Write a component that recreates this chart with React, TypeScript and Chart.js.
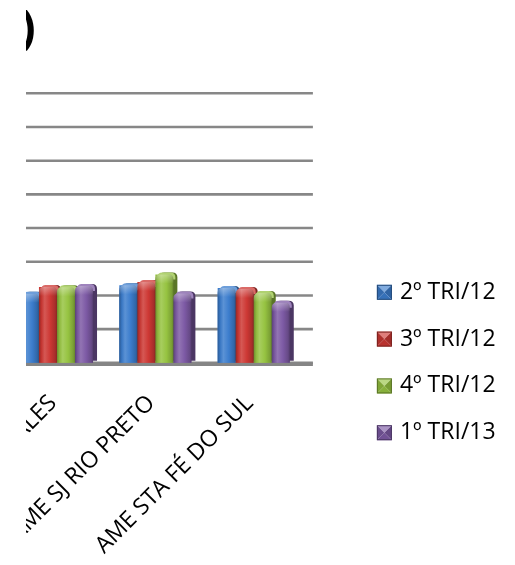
import React, { useEffect, useRef } from "react";
import { Chart, registerables } from "chart.js";

Chart.register(...registerables);

// Units and quarters
const categories = ["AME JALES", "AME SJ RIO PRETO", "AME STA FÉ DO SUL"];
const seriesLabels = ["2º TRI/12", "3º TRI/12", "4º TRI/12", "1º TRI/13"];

// Quarterly values per unit
const tri2_12 = [20.5, 23.0, 22.2];
const tri3_12 = [22.5, 24.0, 21.9];
const tri4_12 = [22.4, 26.2, 20.7];
const tri1_13 = [22.8, 20.6, 17.8];

const seriesColors = ["#3c7dcd", "#cd3834", "#96c341", "#7d5aa5"];

// Value axis range
const yMin = 0;
const yMax = 80;
const yStep = 10;

const titleText = ")";

function rgb(hex: string): [number, number, number] {
  const h = hex.replace("#", "");
  return [parseInt(h.slice(0, 2), 16), parseInt(h.slice(2, 4), 16), parseInt(h.slice(4, 6), 16)];
}
function shade(hex: string, f: number): string {
  const [r, g, b] = rgb(hex);
  const c = (v: number) => Math.max(0, Math.min(255, Math.round(v * f)));
  return `rgb(${c(r)},${c(g)},${c(b)})`;
}
function tint(hex: string, t: number): string {
  const [r, g, b] = rgb(hex);
  const c = (v: number) => Math.round(v + (255 - v) * t);
  return `rgb(${c(r)},${c(g)},${c(b)})`;
}

function topRounded(ctx: CanvasRenderingContext2D, x: number, y: number, w: number, h: number, r: number) {
  ctx.beginPath();
  ctx.moveTo(x, y + h);
  ctx.lineTo(x, y + r);
  ctx.quadraticCurveTo(x, y, x + r, y);
  ctx.lineTo(x + w - r, y);
  ctx.quadraticCurveTo(x + w, y, x + w, y + r);
  ctx.lineTo(x + w, y + h);
  ctx.closePath();
}

const DEPTH_X = 4;
const DEPTH_Y = 2;

// Back wall gridlines and floor edge
const wallPlugin = {
  id: "wall",
  beforeDatasetsDraw(chart: any) {
    const { ctx, chartArea, scales } = chart;
    const y = scales.y;
    ctx.save();
    ctx.strokeStyle = "#878787";
    ctx.lineWidth = 2.6;
    for (let v = yMin; v <= yMax; v += yStep) {
      const py = y.getPixelForValue(v);
      ctx.beginPath();
      ctx.moveTo(chartArea.left + 10, py);
      ctx.lineTo(chartArea.right + 10, py);
      ctx.stroke();
    }
    ctx.lineWidth = 3.5;
    ctx.strokeStyle = "#858585";
    const by = y.getPixelForValue(yMin) + 1.5;
    ctx.beginPath();
    ctx.moveTo(chartArea.left + 10, by);
    ctx.lineTo(chartArea.right + 10, by);
    ctx.stroke();
    ctx.restore();
  },
};

// Column shading: side face, rounded cap and cylindrical front gradient
const columnPlugin = {
  id: "columns3d",
  afterDatasetsDraw(chart: any) {
    const { ctx } = chart;
    const n = chart.data.labels.length;
    ctx.save();
    for (let i = 0; i < n; i++) {
      chart.data.datasets.forEach((ds: any, di: number) => {
        const meta = chart.getDatasetMeta(di);
        const el = meta.data[i];
        if (!el) return;
        const { x, y, base, width } = el.getProps(["x", "y", "base", "width"], true);
        const color = seriesColors[di];
        const left = x - width / 2;
        const w = width;
        const h = base - y;
        const r = 5;
        // side / depth
        ctx.fillStyle = shade(color, 0.6);
        topRounded(ctx, left + DEPTH_X, y - DEPTH_Y, w, h, r);
        ctx.fill();
        // cap
        ctx.fillStyle = tint(color, 0.25);
        topRounded(ctx, left + DEPTH_X / 2, y - DEPTH_Y, w, r + 2, r);
        ctx.fill();
        // front
        const g = ctx.createLinearGradient(left, 0, left + w, 0);
        g.addColorStop(0, shade(color, 0.72));
        g.addColorStop(0.14, shade(color, 0.95));
        g.addColorStop(0.32, tint(color, 0.16));
        g.addColorStop(0.62, color);
        g.addColorStop(0.9, shade(color, 0.82));
        g.addColorStop(1, shade(color, 0.68));
        ctx.fillStyle = g;
        topRounded(ctx, left, y, w, h, r);
        ctx.fill();
        // cap highlight
        const cg = ctx.createLinearGradient(0, y, 0, y + 9);
        cg.addColorStop(0, "rgba(255,255,255,0.35)");
        cg.addColorStop(1, "rgba(255,255,255,0)");
        ctx.fillStyle = cg;
        topRounded(ctx, left, y, w, 9, r);
        ctx.fill();
      });
    }
    ctx.restore();
  },
};

// Series key on the right and the heading
const keyPlugin = {
  id: "key",
  afterDraw(chart: any) {
    const { ctx, chartArea } = chart;
    ctx.save();
    const bx = chartArea.right + 74;
    const s = 15;
    const rowTop = chartArea.top + 199;
    const rowGap = 46.8;
    ctx.font = '23px "Open Sans"';
    ctx.textBaseline = "middle";
    ctx.textAlign = "left";
    chart.data.datasets.forEach((ds: any, di: number) => {
      const color = seriesColors[di];
      const cy = rowTop + di * rowGap;
      const x0 = bx, y0 = cy - s / 2, x1 = bx + s, y1 = cy + s / 2;
      const cx = bx + s / 2, cyy = cy;
      const tri = (pts: number[][], fill: string) => {
        ctx.beginPath();
        ctx.moveTo(pts[0][0], pts[0][1]);
        pts.slice(1).forEach((p) => ctx.lineTo(p[0], p[1]));
        ctx.closePath();
        ctx.fillStyle = fill;
        ctx.fill();
      };
      tri([[x0, y0], [x1, y0], [cx, cyy]], tint(color, 0.35));
      tri([[x1, y0], [x1, y1], [cx, cyy]], shade(color, 0.8));
      tri([[x0, y1], [x1, y1], [cx, cyy]], shade(color, 0.9));
      tri([[x0, y0], [x0, y1], [cx, cyy]], shade(color, 0.85));
      ctx.strokeStyle = shade(color, 0.6);
      ctx.lineWidth = 1;
      ctx.strokeRect(x0 + 0.5, y0 + 0.5, s - 1, s - 1);
      ctx.fillStyle = "#000";
      ctx.fillText(ds.label, bx + 23, cy);
    });
    ctx.font = 'bold 47px "Open Sans"';
    ctx.textAlign = "right";
    ctx.textBaseline = "middle";
    ctx.fillStyle = "#000";
    ctx.fillText(titleText, chartArea.left + 28, 30);
    ctx.restore();
  },
};

export default function App() {
  const canvasRef = useRef<HTMLCanvasElement>(null);

  useEffect(() => {
    document.body.style.margin = "0";
    const canvas = canvasRef.current;
    if (!canvas) return;
    const series = [tri2_12, tri3_12, tri4_12, tri1_13];
    const chart = new Chart(canvas, {
      type: "bar",
      data: {
        labels: categories,
        datasets: series.map((values, i) => ({
          label: seriesLabels[i],
          data: values,
          backgroundColor: seriesColors[i],
          borderWidth: 0,
          categoryPercentage: 0.733,
          barPercentage: 1.0,
        })),
      },
      options: {
        responsive: false,
        animation: false,
        events: [],
        layout: { padding: { left: 107.8, right: 212.1, top: 93.3, bottom: 0 } },
        plugins: {
          legend: { display: false },
          tooltip: { enabled: false },
          title: { display: false },
        },
        scales: {
          x: {
            grid: { display: false, drawTicks: false },
            border: { display: false },
            ticks: {
              autoSkip: false,
              minRotation: 45,
              maxRotation: 45,
              padding: 27,
              labelOffset: -4,
              color: "#000",
              font: { family: "Open Sans", size: 23 },
            },
            afterFit: (scale: any) => {
              scale.height = 202.2;
            },
          },
          y: {
            display: false,
            min: yMin,
            max: yMax,
            ticks: { stepSize: yStep },
          },
        },
      },
      plugins: [wallPlugin, columnPlugin, keyPlugin],
    });
    return () => chart.destroy();
  }, []);

  return (
    <div style={{ position: "relative", width: 515, height: 565, background: "#fff", overflow: "hidden" }}>
      <div style={{ position: "absolute", left: 26, top: 0, width: 489, height: 565, overflow: "hidden" }}>
        <canvas
          ref={canvasRef}
          width={615}
          height={565}
          style={{ position: "absolute", left: -126, top: 0, width: 615, height: 565 }}
        />
      </div>
    </div>
  );
}
